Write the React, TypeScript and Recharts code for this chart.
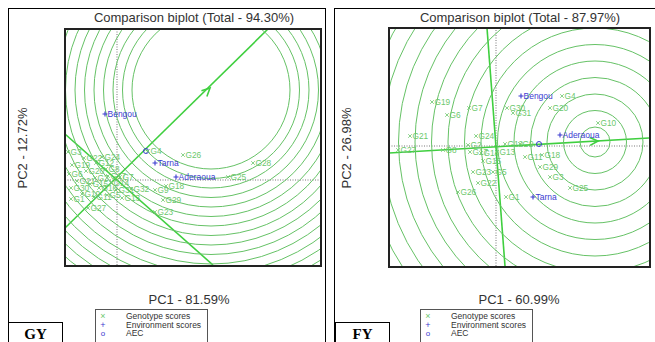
import React from 'react'
import { ScatterChart, Scatter, XAxis, YAxis, ReferenceLine, ReferenceDot } from 'recharts'

// GY biplot (left)
const gyGenotypes = [
  { name: 'G3', x: -0.98, y: 0.56 }, { name: 'G19', x: -0.9, y: 0.3 },
  { name: 'G12', x: -0.42, y: 0.34 }, { name: 'G22', x: -0.66, y: 0.44 },
  { name: 'G24', x: -0.3, y: 0.46 }, { name: 'G20', x: -0.62, y: 0.18 },
  { name: 'G8', x: -0.22, y: 0.22 }, { name: 'G17', x: -0.18, y: 0.08 },
  { name: 'G7', x: 0.06, y: 0.06 }, { name: 'G2', x: -0.44, y: 0.04 },
  { name: 'G21', x: -0.8, y: -0.02 }, { name: 'G15', x: -0.54, y: -0.08 },
  { name: 'G30', x: -0.92, y: -0.16 }, { name: 'G16', x: -0.36, y: -0.16 },
  { name: 'G14', x: -0.12, y: -0.06 }, { name: 'G10', x: -0.7, y: -0.28 },
  { name: 'G1', x: -0.92, y: -0.38 }, { name: 'G11', x: -0.46, y: -0.34 },
  { name: 'G5', x: -0.2, y: -0.3 }, { name: 'G13', x: 0.1, y: -0.36 },
  { name: 'G27', x: -0.58, y: -0.56 }, { name: 'G32', x: 0.28, y: -0.18 },
  { name: 'G9', x: 0.76, y: -0.2 }, { name: 'G18', x: 0.98, y: -0.12 },
  { name: 'G29', x: 0.92, y: -0.4 }, { name: 'G23', x: 0.76, y: -0.64 },
  { name: 'G26', x: 1.32, y: 0.5 }, { name: 'G28', x: 2.72, y: 0.34 },
  { name: 'G25', x: 2.22, y: 0.06 }, { name: 'G4', x: 0.62, y: 0.58 },
  { name: 'G6', x: -0.96, y: 0.12 }, { name: 'G31', x: -0.02, y: -0.2 },
]
const gyEnvironments = [
  { name: 'Bengou', x: -0.24, y: 1.32 },
  { name: 'Tarna', x: 0.76, y: 0.34 },
  { name: 'Aderaoua', x: 1.18, y: 0.06 },
]
const gyAec = { x: 0.58, y: 0.58 }
const gyCenter = { x: 1.88, y: 1.8 }
const gyArrowTip = { x: 1.86, y: 1.84 }
const gyAecLine = [{ x: -1.04, y: -0.96 }, { x: 3.02, y: 3.02 }]
const gyPerpLine = [{ x: -1.04, y: 0.92 }, { x: 1.92, y: -1.7 }]
const gyRadii = [1.58, 1.77, 1.96, 2.15, 2.34, 2.53, 2.72, 2.91, 3.1, 3.29, 3.48, 3.67, 3.86, 4.05, 4.24, 4.43, 4.62]
const gyXDomain: [number, number] = [-1.04, 4.06]
const gyYDomain: [number, number] = [-1.7, 3.02]

// FY biplot (right)
const fyGenotypes = [
  { name: 'G4', x: 1.32, y: 1.0 }, { name: 'G19', x: -1.28, y: 0.88 },
  { name: 'G7', x: -0.54, y: 0.76 }, { name: 'G6', x: -0.98, y: 0.62 },
  { name: 'G30', x: 0.22, y: 0.76 }, { name: 'G31', x: 0.34, y: 0.66 },
  { name: 'G20', x: 1.08, y: 0.76 }, { name: 'G10', x: 2.04, y: 0.46 },
  { name: 'G21', x: -1.72, y: 0.2 }, { name: 'G24', x: -0.4, y: 0.2 },
  { name: 'G27', x: -1.96, y: -0.08 }, { name: 'G8', x: -1.06, y: -0.08 },
  { name: 'G2', x: -0.56, y: 0.02 }, { name: 'G17', x: -0.52, y: -0.12 },
  { name: 'G14', x: -0.3, y: -0.14 }, { name: 'G13', x: 0.02, y: -0.12 },
  { name: 'G12', x: 0.18, y: 0.04 }, { name: 'G9', x: 0.48, y: 0.04 },
  { name: 'G15', x: -0.26, y: -0.3 }, { name: 'G11', x: 0.58, y: -0.22 },
  { name: 'G18', x: 0.92, y: -0.18 }, { name: 'G29', x: 0.88, y: -0.42 },
  { name: 'G3', x: 1.08, y: -0.62 }, { name: 'G25', x: 1.48, y: -0.84 },
  { name: 'G23', x: -0.46, y: -0.52 }, { name: 'G5', x: -0.06, y: -0.52 },
  { name: 'G22', x: -0.36, y: -0.74 }, { name: 'G26', x: -0.76, y: -0.92 },
  { name: 'G1', x: 0.2, y: -1.02 },
]
const fyEnvironments = [
  { name: 'Bengou', x: 0.5, y: 1.0 },
  { name: 'Aderaoua', x: 1.28, y: 0.22 },
  { name: 'Tarna', x: 0.74, y: -1.02 },
]
const fyAec = { x: 0.86, y: 0.04 }
const fyCenter = { x: 1.98, y: 0.08 }
const fyArrowTip = { x: 2.04, y: 0.1 }
const fyAecLine = [{ x: -2.14, y: -0.14 }, { x: 3.06, y: 0.16 }]
const fyPerpLine = [{ x: -0.18, y: 2.36 }, { x: 0.18, y: -2.4 }]
const fyRadii = [0.3, 0.63, 0.96, 1.29, 1.62, 1.95, 2.28, 2.61, 2.94, 3.27, 3.6, 3.93, 4.26, 4.59, 4.92]
const fyXDomain: [number, number] = [-2.14, 3.06]
const fyYDomain: [number, number] = [-2.4, 2.36]

const legendItems = ['Genotype scores', 'Environment scores', 'AEC']

const GENO = '#6cc86c'
const ENV = '#3b3bd0'
const RING = '#66c266'
const AXIS_LINE = '#3fcf3f'
const FONT = '"Liberation Sans", Arial, sans-serif'
const PX_PER_UNIT = 50

const GenoShape = (p: any) => {
  const { cx, cy, payload } = p
  return (
    <g>
      <path d={`M${cx - 1.8},${cy - 1.8}L${cx + 1.8},${cy + 1.8}M${cx - 1.8},${cy + 1.8}L${cx + 1.8},${cy - 1.8}`} stroke={GENO} strokeWidth={0.8} />
      <text x={cx + 2.5} y={cy + 3} fontSize={8.3} fill={GENO} fontFamily={FONT}>{payload.name}</text>
    </g>
  )
}

const EnvShape = (p: any) => {
  const { cx, cy, payload } = p
  return (
    <g>
      <path d={`M${cx - 2.5},${cy}L${cx + 2.5},${cy}M${cx},${cy - 2.5}L${cx},${cy + 2.5}`} stroke={ENV} strokeWidth={1.1} />
      <text x={cx + 2.5} y={cy + 3} fontSize={8.5} fill={ENV} fontFamily={FONT}>{payload.name}</text>
    </g>
  )
}

type Pt = { x: number; y: number }

function Biplot(props: {
  genotypes: { name: string; x: number; y: number }[]
  environments: { name: string; x: number; y: number }[]
  aec: Pt; center: Pt; tip: Pt; aecLine: Pt[]; perpLine: Pt[]; radii: number[]
  xDomain: [number, number]; yDomain: [number, number]
  margin: { top: number; right: number; bottom: number; left: number }
}) {
  const { genotypes, environments, aec, center, tip, aecLine, perpLine, radii, xDomain, yDomain, margin } = props
  const ang = Math.atan2(tip.y - aecLine[0].y, tip.x - aecLine[0].x)
  const Arrow = (p: any) => {
    const { cx, cy } = p
    const base = Math.atan2(-Math.sin(ang), Math.cos(ang)) + Math.PI
    const a1 = base - 0.45
    const a2 = base + 0.45
    return (
      <path
        d={`M${cx + 9 * Math.cos(a1)},${cy + 9 * Math.sin(a1)}L${cx},${cy}L${cx + 9 * Math.cos(a2)},${cy + 9 * Math.sin(a2)}`}
        stroke={AXIS_LINE} strokeWidth={1.6} fill="none"
      />
    )
  }
  return (
    <ScatterChart width={655} height={342} margin={margin} style={{ position: 'absolute', left: 0, top: 0 }}>
      <XAxis type="number" dataKey="x" domain={xDomain} allowDataOverflow hide />
      <YAxis type="number" dataKey="y" domain={yDomain} allowDataOverflow hide />
      {radii.map((r) => (
        <ReferenceDot key={r} x={center.x} y={center.y} r={r * PX_PER_UNIT} fill="none" stroke={RING} strokeWidth={1} ifOverflow="hidden" />
      ))}
      <ReferenceLine x={0} stroke="#777" strokeDasharray="1 1.5" strokeWidth={1} />
      <ReferenceLine y={0} stroke="#777" strokeDasharray="1 1.5" strokeWidth={1} />
      <ReferenceLine segment={aecLine} stroke={AXIS_LINE} strokeWidth={1.6} ifOverflow="hidden" />
      <ReferenceLine segment={perpLine} stroke={AXIS_LINE} strokeWidth={1.6} ifOverflow="hidden" />
      <ReferenceDot x={tip.x} y={tip.y} r={1} shape={Arrow} ifOverflow="hidden" />
      <ReferenceDot x={aec.x} y={aec.y} r={2.5} fill="none" stroke={ENV} strokeWidth={1} />
      <Scatter data={genotypes} shape={GenoShape} isAnimationActive={false} />
      <Scatter data={environments} shape={EnvShape} isAnimationActive={false} />
    </ScatterChart>
  )
}

const abs = (s: React.CSSProperties): React.CSSProperties => ({ position: 'absolute', ...s })

function Legend({ left }: { left: number }) {
  return (
    <div style={abs({ left, top: 309, width: 113, height: 40, border: '1px solid #555', boxSizing: 'border-box', fontFamily: FONT, fontSize: 8.5, color: '#333' })}>
      {legendItems.map((t, i) => (
        <div key={t} style={abs({ left: 0, top: 2 + i * 8.5, width: 113, height: 9, lineHeight: '9px' })}>
          <span style={abs({ left: 3, top: 0, width: 8, textAlign: 'center', color: i === 0 ? GENO : ENV, fontSize: i === 2 ? 8 : 9 })}>
            {i === 0 ? '×' : i === 1 ? '+' : 'o'}
          </span>
          <span style={abs({ left: 30, top: 0 })}>{t}</span>
        </div>
      ))}
    </div>
  )
}

export default function App() {
  const text: React.CSSProperties = { fontFamily: FONT, color: '#333', whiteSpace: 'nowrap' }
  return (
    <div style={abs({ left: 0, top: 0, width: 655, height: 342, overflow: 'hidden', background: '#fff' })}>
      <div style={abs({ left: 8, top: 8, width: 318, height: 360, border: '1px solid #000', boxSizing: 'border-box' })} />
      <div style={abs({ left: 334, top: 8, width: 340, height: 360, border: '1px solid #000', boxSizing: 'border-box' })} />

      <Biplot
        genotypes={gyGenotypes} environments={gyEnvironments} aec={gyAec} center={gyCenter} tip={gyArrowTip}
        aecLine={gyAecLine} perpLine={gyPerpLine} radii={gyRadii} xDomain={gyXDomain} yDomain={gyYDomain}
        margin={{ left: 65, top: 29, right: 335, bottom: 77 }}
      />
      <Biplot
        genotypes={fyGenotypes} environments={fyEnvironments} aec={fyAec} center={fyCenter} tip={fyArrowTip}
        aecLine={fyAecLine} perpLine={fyPerpLine} radii={fyRadii} xDomain={fyXDomain} yDomain={fyYDomain}
        margin={{ left: 389, top: 28, right: 6, bottom: 76 }}
      />

      <div style={abs({ left: 64, top: 28, width: 258, height: 239, border: '2px solid #222', boxSizing: 'border-box' })} />
      <div style={abs({ left: 388, top: 27, width: 263, height: 241, border: '2px solid #222', boxSizing: 'border-box' })} />

      <div style={abs({ ...text, left: 194, top: 17, fontSize: 13, transform: 'translate(-50%,-50%)' })}>Comparison biplot (Total - 94.30%)</div>
      <div style={abs({ ...text, left: 520, top: 17, fontSize: 13, transform: 'translate(-50%,-50%)' })}>Comparison biplot (Total - 87.97%)</div>
      <div style={abs({ ...text, left: 22, top: 148, fontSize: 13, transform: 'translate(-50%,-50%) rotate(-90deg)' })}>PC2 - 12.72%</div>
      <div style={abs({ ...text, left: 346, top: 148, fontSize: 13, transform: 'translate(-50%,-50%) rotate(-90deg)' })}>PC2 - 26.98%</div>
      <div style={abs({ ...text, left: 189, top: 299, fontSize: 13, transform: 'translate(-50%,-50%)' })}>PC1 - 81.59%</div>
      <div style={abs({ ...text, left: 519, top: 299, fontSize: 13, transform: 'translate(-50%,-50%)' })}>PC1 - 60.99%</div>

      <Legend left={95} />
      <Legend left={420} />

      <div style={abs({ left: 8, top: 322, width: 55, height: 30, border: '1px solid #000', boxSizing: 'border-box' })}>
        <div style={abs({ left: 0, top: 3, width: 53, textAlign: 'center', fontFamily: '"Liberation Serif", serif', fontWeight: 'bold', fontSize: 15 })}>GY</div>
      </div>
      <div style={abs({ left: 335, top: 322, width: 55, height: 30, border: '1px solid #000', boxSizing: 'border-box' })}>
        <div style={abs({ left: 0, top: 3, width: 53, textAlign: 'center', fontFamily: '"Liberation Serif", serif', fontWeight: 'bold', fontSize: 15 })}>FY</div>
      </div>
    </div>
  )
}
